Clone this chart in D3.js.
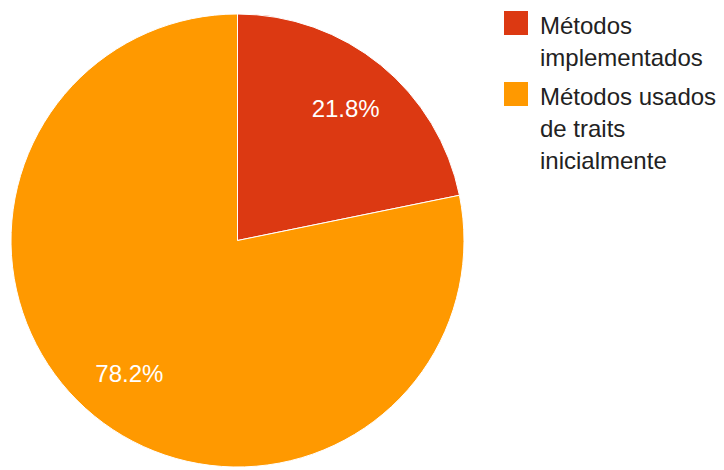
<!DOCTYPE html>
<html>
<head>
<meta charset="utf-8">
<script src="https://cdn.jsdelivr.net/npm/d3@7"></script>
<style>
  html, body { margin: 0; padding: 0; background: #fff; }
  svg { display: block; }
</style>
</head>
<body>
<svg id="chart" width="724" height="470"></svg>
<script>
// Slice data
const categories = ["Métodos implementados", "Métodos usados de traits inicialmente"];
const values = [21.8, 78.2];
const colors = ["#DC3912", "#FF9900"];
// Legend text, wrapped into lines
const legendLines = [
  ["Métodos", "implementados"],
  ["Métodos usados", "de traits", "inicialmente"]
];

const svg = d3.select("#chart");
const font = "'Liberation Sans', Arial, sans-serif";

const cx = 237.5, cy = 240.5, radius = 226.5;

const data = categories.map((c, i) => ({ name: c, value: values[i], color: colors[i] }));
const pie = d3.pie().sort(null).value(d => d.value);
const arcs = pie(data);
const arc = d3.arc().innerRadius(0).outerRadius(radius);
const labelArc = d3.arc().innerRadius(radius * 0.755).outerRadius(radius * 0.755);

const g = svg.append("g").attr("transform", `translate(${cx},${cy})`);

g.selectAll("path.slice")
  .data(arcs)
  .join("path")
  .attr("class", "slice")
  .attr("d", arc)
  .attr("fill", d => d.data.color)
  .attr("stroke", "#fff")
  .attr("stroke-width", 1);

const total = d3.sum(values);
g.selectAll("text.pct")
  .data(arcs)
  .join("text")
  .attr("class", "pct")
  .attr("transform", d => `translate(${labelArc.centroid(d)})`)
  .attr("text-anchor", "middle")
  .attr("dy", "0.36em")
  .attr("fill", "#fff")
  .style("font-family", font)
  .style("font-size", "24px")
  .text(d => (d.data.value / total * 100).toFixed(1) + "%");

// Legend
const legend = svg.append("g");
const itemTops = [11, 82];
legendLines.forEach((lines, i) => {
  const top = itemTops[i];
  legend.append("rect")
    .attr("x", 504).attr("y", top)
    .attr("width", 24).attr("height", 24)
    .attr("fill", colors[i]);
  const t = legend.append("text")
    .attr("x", 540)
    .attr("fill", "#222")
    .style("font-family", font)
    .style("font-size", "24px");
  lines.forEach((ln, j) => {
    t.append("tspan")
      .attr("x", 540)
      .attr("y", top + 23 + j * 32)
      .text(ln);
  });
});
</script>
</body>
</html>
